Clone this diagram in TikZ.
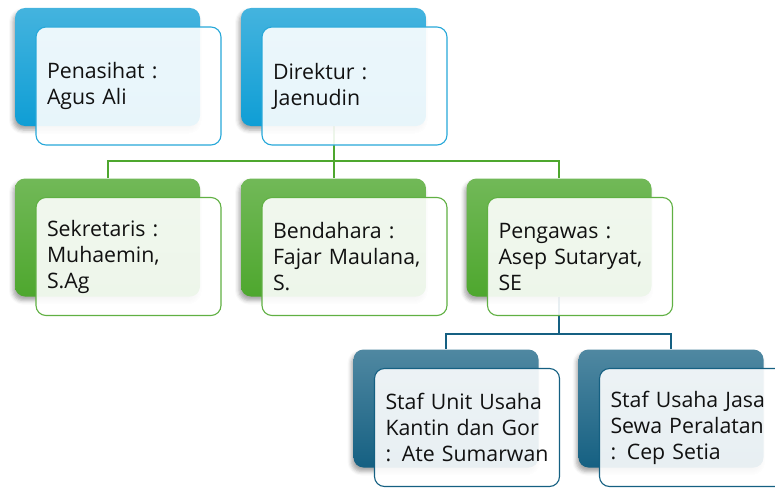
\documentclass[tikz,border=0pt]{standalone}
\usepackage{fontspec}
\setmainfont{Open Sans}
\usepackage{xcolor}
\definecolor{cBlue}{HTML}{0F9ED5}
\definecolor{cGreen}{HTML}{4EA72E}
\definecolor{cTeal}{HTML}{156082}
\definecolor{cText}{HTML}{111111}
\usepackage{tikz}
\usetikzlibrary{positioning,shadows.blur,backgrounds}
\tikzset{
  node-back/.style={rounded corners=10pt,minimum width=185pt,minimum height=118pt,
    inner sep=0pt,blur shadow={shadow xshift=-2pt,shadow yshift=-4pt,
    shadow blur radius=4pt,shadow opacity=35}},
  node-front/.style={line width=1.1pt,rounded corners=10pt,fill=white,
    fill opacity=0.9,text opacity=1,minimum width=185pt,minimum height=118pt,
    text width=163pt,inner xsep=11pt,align=left,text=cText,
    font=\fontsize{21.3}{26}\selectfont},
  back-blue/.style={node-back,top color=cBlue!78!white,bottom color=cBlue},
  back-green/.style={node-back,top color=cGreen!80!white,bottom color=cGreen},
  back-teal/.style={node-back,top color=cTeal!75!white,bottom color=cTeal},
  front-blue/.style={node-front,draw=cBlue!90!white},
  front-green/.style={node-front,draw=cGreen!90!white},
  front-teal/.style={node-front,draw=cTeal},
  line-green/.style={draw=cGreen,line width=2pt},
  line-teal/.style={draw=cTeal,line width=2pt},
}

\begin{document}
\begin{tikzpicture}[x=1pt,y=-1pt]
  \useasboundingbox (0,0) rectangle (775,487);
  \clip (0,0) rectangle (775,487);

  \node[back-blue]  (pen-b)  at (107.5,67)   {};
  \node[back-blue]  (dir-b)  at (333.5,67)   {};
  \node[back-green] (sek-b)  at (107.5,237.5) {};
  \node[back-green] (ben-b)  at (333.5,237.5) {};
  \node[back-green] (peng-b) at (559,237.5)   {};
  \node[back-teal]  (kan-b)  at (446,408.5)   {};
  \node[back-teal]  (sew-b)  at (671,408.5)   {};

  \node[front-blue]  (pen)  at ([shift={(21,19)}]pen-b)  {Penasihat :\\Agus Ali};
  \node[front-blue]  (dir)  at ([shift={(21,19)}]dir-b)  {Direktur :\\Jaenudin};
  \node[front-green] (sek)  at ([shift={(21,19)}]sek-b)  {Sekretaris :\\Muhaemin,\\S.Ag};
  \node[front-green] (ben)  at ([shift={(21,19)}]ben-b)  {Bendahara :\\Fajar Maulana,\\S.};
  \node[front-green] (peng) at ([shift={(21,19)}]peng-b) {Pengawas :\\Asep Sutaryat,\\SE};
  \node[front-teal]  (kan)  at ([shift={(21,19)}]kan-b)  {Staf Unit Usaha\\Kantin dan Gor\\: Ate Sumarwan};
  \node[front-teal]  (sew)  at ([shift={(21,19)}]sew-b)  {Staf Usaha Jasa\\Sewa Peralatan\\: Cep Setia};

  % connectors behind the boxes
  \begin{scope}[on background layer]
    \coordinate (top-bus) at ([yshift=-35pt]dir-b.south);
    \coordinate (mid-bus) at ([yshift=-37pt]peng-b.south);
    \draw[line-green] (dir-b.south) -- (top-bus) -| (sek-b.north);
    \draw[line-green] (top-bus) -| (peng-b.north);
    \draw[line-green] (top-bus) -- (ben-b.north);
    \draw[line-teal] (peng-b.south) -- (mid-bus) -| (kan-b.north);
    \draw[line-teal] (mid-bus) -| (sew-b.north);
  \end{scope}
\end{tikzpicture}
\end{document}
